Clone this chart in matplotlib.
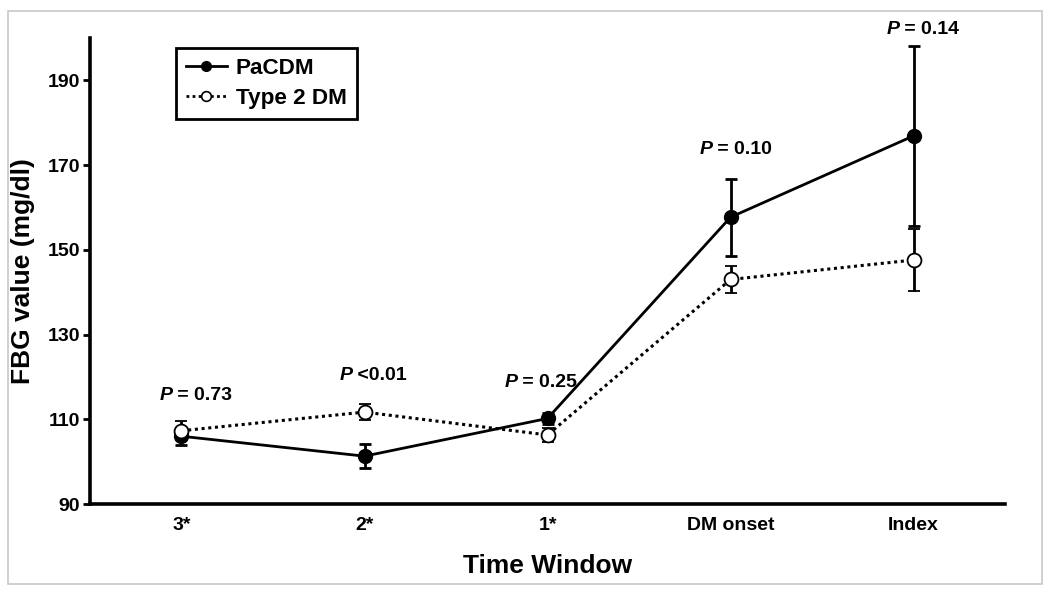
import numpy as np
import matplotlib.pyplot as plt
from matplotlib.patches import Rectangle
from matplotlib.lines import Line2D

plt.rcParams['font.family'] = ['Liberation Sans', 'DejaVu Sans']
plt.rcParams['font.weight'] = 'bold'

# data (mean +/- SEM)
windows = ['3*', '2*', '1*', 'DM onset', 'Index']
pacdm_mean = [106.0, 101.3, 110.2, 157.7, 176.9]
pacdm_err = [2.0, 2.9, 1.4, 9.1, 21.2]
t2dm_mean = [107.3, 111.7, 106.3, 143.0, 147.6]
t2dm_err = [2.3, 1.8, 1.7, 3.1, 7.4]
p_labels = ['= 0.73', '<0.01', '= 0.25', '= 0.10', '= 0.14']

# where each P label sits (left edge offset from the point in px, y in data units)
label_dx = [-22, -25, -43, -31, -27]
label_y = [115.5, 120.3, 118.6, 173.8, 202.0]

x = np.arange(len(windows))

fig = plt.figure(figsize=(10.5, 5.92), dpi=100)
ax = fig.add_axes([0.0857, 0.1486, 0.8715, 0.7872])

# grey frame round the whole picture
fig.patches.append(Rectangle((0.0076, 0.0135), 0.985, 0.968, transform=fig.transFigure,
                             fill=False, edgecolor='#c8c8c8', linewidth=1.2))

ax.errorbar(x, pacdm_mean, yerr=pacdm_err, color='black', lw=2, marker='o', ms=10,
            mfc='black', mec='black', capsize=4.5, capthick=2, elinewidth=2,
            zorder=3)
ax.errorbar(x, t2dm_mean, yerr=t2dm_err, color='black', lw=2.2, ls=(0, (1, 1.2)),
            marker='o', ms=10, mfc='white', mec='black', mew=1.3, capsize=4.5,
            capthick=2, elinewidth=2, zorder=4)

# P value labels: italic P followed by the value
px = 72 / fig.dpi
for xi, dx, yi, lab in zip(x, label_dx, label_y, p_labels):
    ax.annotate('P', (xi, yi), xytext=(dx * px, 0), textcoords='offset points',
                ha='left', va='center', fontsize=14, fontweight='bold',
                style='italic', annotation_clip=False)
    ax.annotate(' ' + lab, (xi, yi), xytext=(dx * px + 9.3, 0), textcoords='offset points',
                ha='left', va='center', fontsize=14, fontweight='bold',
                annotation_clip=False)

ax.set_xlim(-0.5, 4.5)
ax.set_ylim(90, 200)
ax.set_yticks([90, 110, 130, 150, 170, 190])
ax.set_xticks(x)
ax.set_xticklabels(windows)
ax.tick_params(axis='x', length=0, pad=9, labelsize=14)
ax.tick_params(axis='y', length=5, width=2, labelsize=14, pad=2)
for lab in ax.get_xticklabels() + ax.get_yticklabels():
    lab.set_fontweight('bold')

for side in ['top', 'right']:
    ax.spines[side].set_visible(False)
for side in ['left', 'bottom']:
    ax.spines[side].set_linewidth(2.6)

ax.set_ylabel('FBG value (mg/dl)', fontsize=19, fontweight='bold', labelpad=9)
ax.set_xlabel('Time Window', fontsize=19, fontweight='bold', labelpad=15)

handles = [
    Line2D([], [], color='black', lw=2, marker='o', ms=7, mfc='black', mec='black'),
    Line2D([], [], color='black', lw=2, ls=(0, (1, 1.2)), marker='o', ms=7,
           mfc='white', mec='black', mew=1.2),
]
leg = ax.legend(handles, ['PaCDM', 'Type 2 DM'], loc='upper left',
                bbox_to_anchor=(0.094, 0.979), fontsize=16.2, frameon=True,
                fancybox=False, framealpha=1, handlelength=1.8, borderpad=0.45,
                labelspacing=0.42, handletextpad=0.4, borderaxespad=0)
leg.get_frame().set_edgecolor('black')
leg.get_frame().set_linewidth(2)
for t in leg.get_texts():
    t.set_fontweight('bold')

fig.savefig('out.png', dpi=100)
